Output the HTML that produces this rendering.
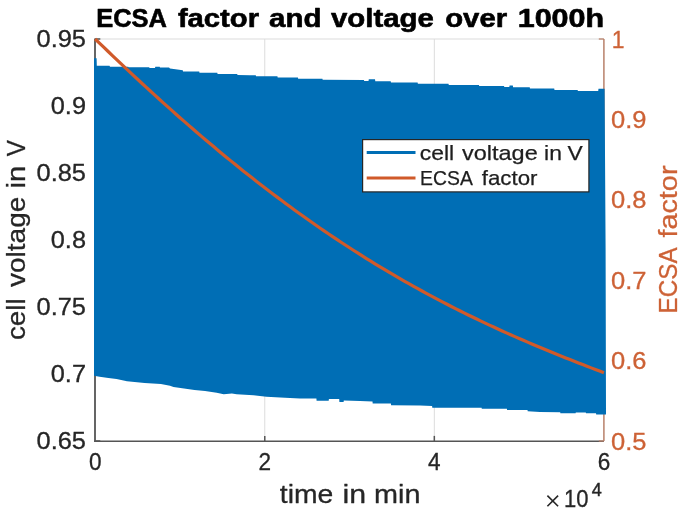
<!DOCTYPE html>
<html><head><meta charset="utf-8"><style>
html,body{margin:0;padding:0;background:#fff;width:685px;height:509px;overflow:hidden}
svg{position:absolute;left:0;top:0;display:block;filter:blur(0.45px)}
text{font-family:"Liberation Sans",sans-serif}
</style></head><body>
<svg width="685" height="509" viewBox="0 0 685 509">
<rect x="0" y="0" width="685" height="509" fill="#fff"/>
<line x1="264.77" y1="39.0" x2="264.77" y2="441.0" stroke="#DCDCDC" stroke-width="1"/>
<line x1="434.33" y1="39.0" x2="434.33" y2="441.0" stroke="#DCDCDC" stroke-width="1"/>
<line x1="95.2" y1="39.0" x2="603.9" y2="39.0" stroke="#DCDCDC" stroke-width="1.2"/>
<line x1="95.0" y1="38.4" x2="95.0" y2="441.9" stroke="#555" stroke-width="1.8"/>
<line x1="94.1" y1="441.3" x2="603.9" y2="441.3" stroke="#555" stroke-width="1.5"/>
<line x1="603.9" y1="39.0" x2="603.9" y2="441.0" stroke="#B8806A" stroke-width="1.5"/>
<line x1="264.77" y1="441.0" x2="264.77" y2="435.9" stroke="#555" stroke-width="1.5"/>
<line x1="434.33" y1="441.0" x2="434.33" y2="435.9" stroke="#555" stroke-width="1.5"/>
<line x1="95.2" y1="39.00" x2="100.3" y2="39.00" stroke="#555" stroke-width="1.5"/>
<line x1="95.2" y1="106.00" x2="100.3" y2="106.00" stroke="#555" stroke-width="1.5"/>
<line x1="95.2" y1="173.00" x2="100.3" y2="173.00" stroke="#555" stroke-width="1.5"/>
<line x1="95.2" y1="240.00" x2="100.3" y2="240.00" stroke="#555" stroke-width="1.5"/>
<line x1="95.2" y1="307.00" x2="100.3" y2="307.00" stroke="#555" stroke-width="1.5"/>
<line x1="95.2" y1="374.00" x2="100.3" y2="374.00" stroke="#555" stroke-width="1.5"/>
<line x1="95.2" y1="441.00" x2="100.3" y2="441.00" stroke="#555" stroke-width="1.5"/>
<line x1="603.9" y1="39.00" x2="598.8" y2="39.00" stroke="#B8806A" stroke-width="1.3"/>
<line x1="603.9" y1="119.40" x2="598.8" y2="119.40" stroke="#B8806A" stroke-width="1.3"/>
<line x1="603.9" y1="199.80" x2="598.8" y2="199.80" stroke="#B8806A" stroke-width="1.3"/>
<line x1="603.9" y1="280.20" x2="598.8" y2="280.20" stroke="#B8806A" stroke-width="1.3"/>
<line x1="603.9" y1="360.60" x2="598.8" y2="360.60" stroke="#B8806A" stroke-width="1.3"/>
<line x1="603.9" y1="441.00" x2="598.8" y2="441.00" stroke="#B8806A" stroke-width="1.3"/>
<polygon points="94.0,58.3 96.6,58.3 96.8,65.7 109.5,65.7 110.0,66.7 128.2,66.7 128.6,67.3 149.2,67.3 149.5,68.0 155.0,68.0 155.3,66.7 159.7,66.7 160.0,67.6 169.0,67.6 170.0,68.6 182.8,70.2 183.0,71.4 199.2,71.4 199.5,72.8 217.3,72.8 217.6,74.0 237.2,74.0 237.5,75.0 250.0,75.2 255.8,75.3 256.0,76.3 277.4,76.3 277.7,77.5 297.9,77.5 298.2,78.8 322.4,78.8 322.7,79.8 363.9,80.0 364.2,81.1 368.5,81.1 368.8,79.2 375.0,79.2 375.3,81.3 390.7,81.3 391.0,82.6 417.6,82.6 417.9,83.7 448.5,83.7 448.8,85.1 478.9,85.1 479.2,86.0 504.0,86.0 504.3,86.9 509.3,86.9 509.6,85.4 512.8,85.4 513.1,87.3 529.7,87.3 530.0,88.4 554.2,88.4 554.5,90.1 577.6,90.1 577.9,91.0 598.2,91.0 598.5,88.7 604.6,88.7 605.6,250.0 606.0,414.5 596.2,414.5 596.0,413.3 586.0,413.3 585.8,412.5 575.8,412.5 575.6,413.3 560.4,413.3 560.2,412.3 540.0,412.0 527.7,411.3 527.5,410.1 507.1,410.1 506.9,408.7 481.8,408.7 481.6,407.7 432.3,407.7 432.1,405.9 420.0,405.6 391.1,405.3 390.9,403.6 372.7,403.6 372.5,401.4 360.0,401.0 343.8,400.6 343.6,402.1 339.4,402.1 339.2,399.0 328.9,399.0 328.7,400.8 316.6,400.8 316.4,398.6 300.0,398.4 285.0,397.8 266.4,396.7 253.5,395.3 236.6,394.2 231.9,393.6 223.7,394.2 216.7,392.8 205.0,391.1 194.5,389.9 184.0,388.4 173.5,387.0 170.0,385.8 160.9,384.0 144.6,383.0 127.0,381.2 116.5,379.1 108.4,377.9 99.6,376.8 94.0,375.8" fill="#006EB5"/>
<polyline points="95.20,39.00 99.44,43.10 103.68,47.19 107.92,51.26 112.16,55.32 116.40,59.36 120.64,63.38 124.87,67.38 129.11,71.37 133.35,75.34 137.59,79.29 141.83,83.22 146.07,87.13 150.31,91.02 154.55,94.89 158.79,98.74 163.03,102.58 167.27,106.39 171.50,110.17 175.74,113.94 179.98,117.69 184.22,121.41 188.46,125.12 192.70,128.80 196.94,132.45 201.18,136.09 205.42,139.70 209.66,143.29 213.90,146.85 218.14,150.40 222.38,153.91 226.61,157.41 230.85,160.88 235.09,164.32 239.33,167.74 243.57,171.14 247.81,174.51 252.05,177.86 256.29,181.18 260.53,184.47 264.77,187.74 269.01,190.99 273.25,194.21 277.48,197.40 281.72,200.57 285.96,203.72 290.20,206.83 294.44,209.93 298.68,212.99 302.92,216.03 307.16,219.05 311.40,222.04 315.64,225.00 319.88,227.94 324.12,230.85 328.35,233.73 332.59,236.59 336.83,239.42 341.07,242.23 345.31,245.01 349.55,247.77 353.79,250.50 358.03,253.20 362.27,255.88 366.51,258.54 370.75,261.16 374.99,263.77 379.22,266.35 383.46,268.90 387.70,271.43 391.94,273.93 396.18,276.41 400.42,278.86 404.66,281.29 408.90,283.70 413.14,286.08 417.38,288.44 421.62,290.77 425.86,293.08 430.09,295.37 434.33,297.63 438.57,299.88 442.81,302.09 447.05,304.29 451.29,306.47 455.53,308.62 459.77,310.75 464.01,312.86 468.25,314.95 472.49,317.02 476.72,319.06 480.96,321.09 485.20,323.10 489.44,325.09 493.68,327.05 497.92,329.00 502.16,330.94 506.40,332.85 510.64,334.74 514.88,336.62 519.12,338.48 523.36,340.32 527.60,342.15 531.83,343.96 536.07,345.76 540.31,347.54 544.55,349.30 548.79,351.05 553.03,352.79 557.27,354.51 561.51,356.22 565.75,357.92 569.99,359.61 574.23,361.28 578.47,362.94 582.70,364.60 586.94,366.24 591.18,367.87 595.42,369.49 599.66,371.11 603.90,372.71" fill="none" stroke="#D05A2A" stroke-width="3.2" stroke-linejoin="round"/>
<rect x="362.6" y="139.6" width="226.3" height="52.3" fill="#fff" stroke="#262626" stroke-width="1.2"/>
<line x1="366.7" y1="152.4" x2="415.5" y2="152.4" stroke="#006EB5" stroke-width="3"/>
<line x1="366.7" y1="178.1" x2="415.5" y2="178.1" stroke="#D05A2A" stroke-width="3"/>
<g font-family="Liberation Sans, sans-serif" font-size="21.0" font-weight="normal" fill="#1E1E1E" stroke="#1E1E1E" stroke-width="0.25" stroke-linejoin="round"><text x="419.7" y="160.3" textLength="34.4" lengthAdjust="spacingAndGlyphs">cell</text><text x="462.0" y="160.3" textLength="75.74" lengthAdjust="spacingAndGlyphs">voltage</text><text x="544.1" y="160.3" textLength="17.86" lengthAdjust="spacingAndGlyphs">in</text><text x="567.4" y="160.3" textLength="15.27" lengthAdjust="spacingAndGlyphs">V</text></g>
<g font-family="Liberation Sans, sans-serif" font-size="21.0" font-weight="normal" fill="#1E1E1E" stroke="#1E1E1E" stroke-width="0.25" stroke-linejoin="round"><text x="420.1" y="184.6" textLength="52.71" lengthAdjust="spacingAndGlyphs">ECSA</text><text x="481.8" y="184.6" textLength="55.7" lengthAdjust="spacingAndGlyphs">factor</text></g>
<text x="86" y="47.00" font-family="Liberation Sans, sans-serif" font-size="23.5" fill="#262626" stroke="#262626" stroke-width="0.3" text-anchor="end" textLength="49.44" lengthAdjust="spacingAndGlyphs">0.95</text>
<text x="86" y="114.00" font-family="Liberation Sans, sans-serif" font-size="23.5" fill="#262626" stroke="#262626" stroke-width="0.3" text-anchor="end" textLength="35.24" lengthAdjust="spacingAndGlyphs">0.9</text>
<text x="86" y="181.00" font-family="Liberation Sans, sans-serif" font-size="23.5" fill="#262626" stroke="#262626" stroke-width="0.3" text-anchor="end" textLength="49.44" lengthAdjust="spacingAndGlyphs">0.85</text>
<text x="86" y="248.00" font-family="Liberation Sans, sans-serif" font-size="23.5" fill="#262626" stroke="#262626" stroke-width="0.3" text-anchor="end" textLength="35.24" lengthAdjust="spacingAndGlyphs">0.8</text>
<text x="86" y="315.00" font-family="Liberation Sans, sans-serif" font-size="23.5" fill="#262626" stroke="#262626" stroke-width="0.3" text-anchor="end" textLength="49.44" lengthAdjust="spacingAndGlyphs">0.75</text>
<text x="86" y="382.00" font-family="Liberation Sans, sans-serif" font-size="23.5" fill="#262626" stroke="#262626" stroke-width="0.3" text-anchor="end" textLength="35.24" lengthAdjust="spacingAndGlyphs">0.7</text>
<text x="86" y="449.00" font-family="Liberation Sans, sans-serif" font-size="23.5" fill="#262626" stroke="#262626" stroke-width="0.3" text-anchor="end" textLength="49.44" lengthAdjust="spacingAndGlyphs">0.65</text>
<text x="611.8" y="47.50" font-family="Liberation Sans, sans-serif" font-size="23.5" fill="#CD6236" stroke="#CD6236" stroke-width="0.3" textLength="12.78" lengthAdjust="spacingAndGlyphs">1</text>
<text x="611" y="127.90" font-family="Liberation Sans, sans-serif" font-size="23.5" fill="#CD6236" stroke="#CD6236" stroke-width="0.3" textLength="35.45" lengthAdjust="spacingAndGlyphs">0.9</text>
<text x="611" y="208.30" font-family="Liberation Sans, sans-serif" font-size="23.5" fill="#CD6236" stroke="#CD6236" stroke-width="0.3" textLength="35.45" lengthAdjust="spacingAndGlyphs">0.8</text>
<text x="611" y="288.70" font-family="Liberation Sans, sans-serif" font-size="23.5" fill="#CD6236" stroke="#CD6236" stroke-width="0.3" textLength="35.45" lengthAdjust="spacingAndGlyphs">0.7</text>
<text x="611" y="369.10" font-family="Liberation Sans, sans-serif" font-size="23.5" fill="#CD6236" stroke="#CD6236" stroke-width="0.3" textLength="35.45" lengthAdjust="spacingAndGlyphs">0.6</text>
<text x="611" y="449.50" font-family="Liberation Sans, sans-serif" font-size="23.5" fill="#CD6236" stroke="#CD6236" stroke-width="0.3" textLength="35.45" lengthAdjust="spacingAndGlyphs">0.5</text>
<text x="95.20" y="470" font-family="Liberation Sans, sans-serif" font-size="23.5" fill="#262626" stroke="#262626" stroke-width="0.3" text-anchor="middle" textLength="12.55" lengthAdjust="spacingAndGlyphs">0</text>
<text x="264.77" y="470" font-family="Liberation Sans, sans-serif" font-size="23.5" fill="#262626" stroke="#262626" stroke-width="0.3" text-anchor="middle" textLength="12.55" lengthAdjust="spacingAndGlyphs">2</text>
<text x="434.33" y="470" font-family="Liberation Sans, sans-serif" font-size="23.5" fill="#262626" stroke="#262626" stroke-width="0.3" text-anchor="middle" textLength="12.55" lengthAdjust="spacingAndGlyphs">4</text>
<text x="603.90" y="470" font-family="Liberation Sans, sans-serif" font-size="23.5" fill="#262626" stroke="#262626" stroke-width="0.3" text-anchor="middle" textLength="12.55" lengthAdjust="spacingAndGlyphs">6</text>
<path d="M547.4 495.6 L558.1 506.3 M558.1 495.6 L547.4 506.3" stroke="#262626" stroke-width="1.6" fill="none"/>
<text x="564" y="506.7" font-family="Liberation Sans, sans-serif" font-size="23.5" fill="#262626" stroke="#262626" stroke-width="0.3" textLength="24.46" lengthAdjust="spacingAndGlyphs">10</text>
<text x="591.8" y="496" font-family="Liberation Sans, sans-serif" font-size="18" fill="#262626" stroke="#262626" stroke-width="0.45">4</text>
<g font-family="Liberation Sans, sans-serif" font-size="26.0" font-weight="normal" fill="#262626" stroke="#262626" stroke-width="0.3" stroke-linejoin="round"><text x="279.8" y="503.1" textLength="53.51" lengthAdjust="spacingAndGlyphs">time</text><text x="342.4" y="503.1" textLength="23.64" lengthAdjust="spacingAndGlyphs">in</text><text x="374.1" y="503.1" textLength="46.45" lengthAdjust="spacingAndGlyphs">min</text></g>
<g transform="translate(25,340) rotate(-90)" font-family="Liberation Sans, sans-serif" font-size="26.0" font-weight="normal" fill="#262626" stroke="#262626" stroke-width="0.3" stroke-linejoin="round"><text x="-0.1" y="0" textLength="41.75" lengthAdjust="spacingAndGlyphs">cell</text><text x="53.0" y="0" textLength="90.29" lengthAdjust="spacingAndGlyphs">voltage</text><text x="151.5" y="0" textLength="22.83" lengthAdjust="spacingAndGlyphs">in</text><text x="183.8" y="0" textLength="16.12" lengthAdjust="spacingAndGlyphs">V</text></g>
<g transform="translate(677.4,312) rotate(-90)" font-family="Liberation Sans, sans-serif" font-size="26.0" font-weight="normal" fill="#CD6236" stroke="#CD6236" stroke-width="0.3" stroke-linejoin="round"><text x="-1.4" y="0" textLength="65.95" lengthAdjust="spacingAndGlyphs">ECSA</text><text x="74.4" y="0" textLength="72.13" lengthAdjust="spacingAndGlyphs">factor</text></g>
<g font-family="Liberation Sans, sans-serif" font-size="25.4" font-weight="bold" fill="#000" stroke="#000" stroke-width="0.6" stroke-linejoin="round"><text x="96.2" y="27.2" textLength="70.82" lengthAdjust="spacingAndGlyphs">ECSA</text><text x="177.9" y="27.2" textLength="81.17" lengthAdjust="spacingAndGlyphs">factor</text><text x="269.0" y="27.2" textLength="52.41" lengthAdjust="spacingAndGlyphs">and</text><text x="330.9" y="27.2" textLength="102.99" lengthAdjust="spacingAndGlyphs">voltage</text><text x="445.2" y="27.2" textLength="61.98" lengthAdjust="spacingAndGlyphs">over</text><text x="517.7" y="27.2" textLength="86.51" lengthAdjust="spacingAndGlyphs">1000h</text></g>
</svg>
</body></html>
